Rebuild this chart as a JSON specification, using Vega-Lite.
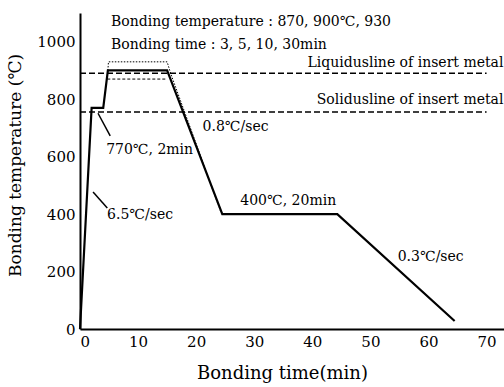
{
  "$schema": "https://vega.github.io/schema/vega-lite/v6.json",
  "width": 424,
  "height": 316,
  "autosize": "none",
  "padding": {"left": 80, "top": 13, "right": 0, "bottom": 58},
  "background": "white",
  "config": {
    "view": {"stroke": null},
    "font": "DejaVu Serif",
    "text": {"font": "DejaVu Serif", "fontSize": 14, "color": "black"}
  },
  "datasets": {
    "curves": [
      {"s": "main", "o": 1, "t": 0, "T": 0},
      {"s": "main", "o": 2, "t": 2.0, "T": 770},
      {"s": "main", "o": 3, "t": 4.0, "T": 770},
      {"s": "main", "o": 4, "t": 4.8, "T": 900},
      {"s": "main", "o": 5, "t": 15.0, "T": 900},
      {"s": "main", "o": 6, "t": 24.5, "T": 400},
      {"s": "main", "o": 7, "t": 44.3, "T": 400},
      {"s": "main", "o": 8, "t": 64.5, "T": 28},
      {"s": "hi", "o": 1, "t": 4.8, "T": 900},
      {"s": "hi", "o": 2, "t": 4.9, "T": 930},
      {"s": "hi", "o": 3, "t": 15.0, "T": 930},
      {"s": "hi", "o": 4, "t": 15.6, "T": 890},
      {"s": "hi", "o": 5, "t": 24.2, "T": 410},
      {"s": "lo", "o": 1, "t": 4.7, "T": 870},
      {"s": "lo", "o": 2, "t": 15.0, "T": 870},
      {"s": "liq", "o": 1, "t": 0, "T": 890},
      {"s": "liq", "o": 2, "t": 70, "T": 890},
      {"s": "sol", "o": 1, "t": 0, "T": 755},
      {"s": "sol", "o": 2, "t": 70, "T": 755}
    ],
    "leaders": [
      {"t1": 3.1, "T1": 751, "t2": 5.2, "T2": 672},
      {"t1": 2.25, "T1": 477, "t2": 4.7, "T2": 421}
    ],
    "labelsL": [
      {"t": 5.35, "T": 1068, "label": "Bonding temperature : 870, 900℃, 930"},
      {"t": 5.35, "T": 988, "label": "Bonding time : 3, 5, 10, 30min"},
      {"t": 21.1, "T": 703, "label": "0.8℃/sec"},
      {"t": 4.5, "T": 623, "label": "770℃, 2min"},
      {"t": 4.66, "T": 397, "label": "6.5℃/sec"},
      {"t": 27.6, "T": 445, "label": "400℃, 20min"},
      {"t": 54.7, "T": 250, "label": "0.3℃/sec"}
    ],
    "labelsR": [
      {"t": 72.9, "T": 925, "label": "Liquidusline of insert metal"},
      {"t": 72.9, "T": 797, "label": "Solidusline of insert metal"}
    ]
  },
  "encoding": {
    "x": {
      "field": "t", "type": "quantitative",
      "scale": {"domain": [0, 73], "nice": false, "zero": false},
      "axis": {
        "values": [0, 10, 20, 30, 40, 50, 60, 70],
        "format": "d",
        "title": "Bonding time(min)",
        "grid": false, "ticks": false, "domainColor": "black", "domainWidth": 2,
        "labelFont": "DejaVu Serif", "labelFontSize": 15, "labelColor": "black", "labelPadding": 5,
        "titleFont": "DejaVu Serif", "titleFontSize": 18, "titleFontWeight": "normal", "titleColor": "black",
        "titleX": 202, "titleY": 44, "titleBaseline": "middle"
      }
    },
    "y": {
      "field": "T", "type": "quantitative",
      "scale": {"domain": [0, 1100], "nice": false, "zero": false},
      "axis": {
        "values": [0, 200, 400, 600, 800, 1000],
        "format": "d",
        "title": "Bonding temperature (℃)",
        "grid": false, "ticks": false, "domainColor": "black", "domainWidth": 2,
        "labelFont": "DejaVu Serif", "labelFontSize": 15, "labelColor": "black", "labelPadding": 5,
        "titleFont": "DejaVu Serif", "titleFontSize": 17, "titleFontWeight": "normal", "titleColor": "black",
        "titleX": -65, "titleY": 152, "titleBaseline": "middle"
      }
    }
  },
  "layer": [
    {
      "data": {"name": "curves"},
      "transform": [{"filter": "datum.s === 'liq' || datum.s === 'sol'"}],
      "mark": {"type": "line", "color": "black", "strokeWidth": 1.5, "strokeDash": [6, 3]},
      "encoding": {"detail": {"field": "s"}, "order": {"field": "o"}}
    },
    {
      "data": {"name": "curves"},
      "transform": [{"filter": "datum.s === 'hi'"}],
      "mark": {"type": "line", "color": "black", "strokeWidth": 1, "strokeDash": [1.5, 1.5]},
      "encoding": {"order": {"field": "o"}}
    },
    {
      "data": {"name": "curves"},
      "transform": [{"filter": "datum.s === 'lo'"}],
      "mark": {"type": "line", "color": "black", "strokeWidth": 1, "strokeDash": [3, 2]},
      "encoding": {"order": {"field": "o"}}
    },
    {
      "data": {"name": "curves"},
      "transform": [{"filter": "datum.s === 'main'"}],
      "mark": {"type": "line", "color": "black", "strokeWidth": 2.2},
      "encoding": {"order": {"field": "o"}}
    },
    {
      "data": {"name": "leaders"},
      "mark": {"type": "rule", "color": "black", "strokeWidth": 1.5},
      "encoding": {
        "x": {"field": "t1", "type": "quantitative"},
        "y": {"field": "T1", "type": "quantitative"},
        "x2": {"field": "t2"},
        "y2": {"field": "T2"}
      }
    },
    {
      "data": {"name": "labelsL"},
      "mark": {"type": "text", "align": "left", "baseline": "middle"},
      "encoding": {"text": {"field": "label"}}
    },
    {
      "data": {"name": "labelsR"},
      "mark": {"type": "text", "align": "right", "baseline": "middle"},
      "encoding": {"text": {"field": "label"}}
    }
  ]
}
